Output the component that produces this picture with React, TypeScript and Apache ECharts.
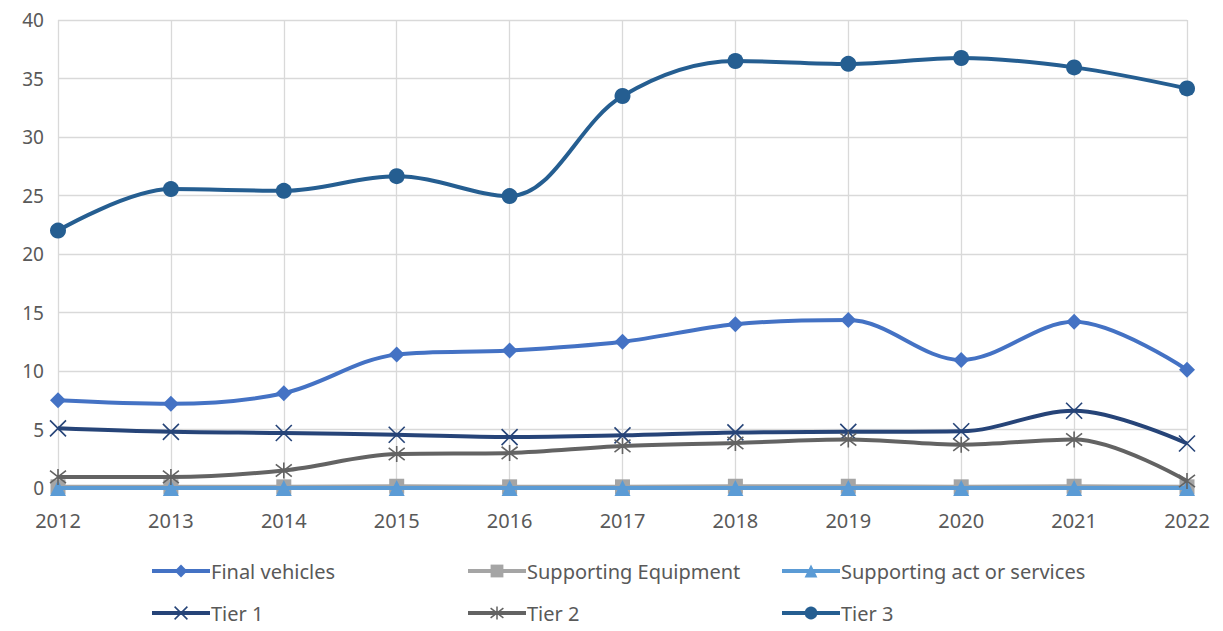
import React, { useEffect, useRef } from "react";
import * as echarts from "echarts";

const years = ["2012", "2013", "2014", "2015", "2016", "2017", "2018", "2019", "2020", "2021", "2022"];
const finalVehicles = [7.5, 7.2, 8.1, 11.4, 11.75, 12.5, 14.0, 14.35, 10.95, 14.2, 10.1];
const supportingEquipment = [0.1, 0.1, 0.1, 0.15, 0.1, 0.1, 0.15, 0.15, 0.1, 0.15, 0.1];
const supportingAct = [0, 0, 0, 0, 0, 0, 0, 0, 0, 0, 0];
const tier1 = [5.1, 4.8, 4.7, 4.55, 4.35, 4.5, 4.75, 4.8, 4.85, 6.6, 3.8];
const tier2 = [0.95, 0.95, 1.5, 2.9, 3.0, 3.6, 3.85, 4.15, 3.7, 4.15, 0.6];
const tier3 = [22.0, 25.55, 25.4, 26.65, 24.95, 33.5, 36.5, 36.25, 36.75, 35.95, 34.15];
const yTicks = { min: 0, max: 40, interval: 5 };

const names = ["Final vehicles", "Supporting Equipment", "Supporting act or services", "Tier 1", "Tier 2", "Tier 3"];
const colors = ["#4472C4", "#A5A5A5", "#5B9BD5", "#264478", "#636363", "#255E91"];

const X_PATH = "path://M0,0L10,10M10,0L0,10";
const STAR_PATH = "path://M0,0L10,10M10,0L0,10M5,-1.5L5,11.5";

export default function App() {
  const ref = useRef<HTMLDivElement>(null);
  useEffect(() => {
    if (!ref.current) return;
    const chart = echarts.init(ref.current, undefined, { renderer: "svg" });
    const datas = [finalVehicles, supportingEquipment, supportingAct, tier1, tier2, tier3];
    const symbols = ["diamond", "rect", "triangle", X_PATH, STAR_PATH, "circle"];
    const sizes = [16, 15, 16, 16, 16, 16];
    const series = datas.map((d, i) => {
      const isPath = i === 3 || i === 4;
      return {
        name: names[i],
        type: "line",
        data: d,
        smooth: 0.35,
        symbol: symbols[i],
        symbolSize: sizes[i],
        showSymbol: true,
        lineStyle: { color: colors[i], width: 4 },
        itemStyle: isPath
          ? { color: "none", borderColor: colors[i], borderWidth: 1.6 }
          : { color: colors[i], borderColor: colors[i], borderWidth: 0 },
        z: 2 + i,
      };
    });
    const legendPos = [
      [150, 561], [466, 561], [780, 561],
      [150, 603], [466, 603], [780, 603],
    ];
    const legends = names.map((n, i) => {
      const isPath = i === 3 || i === 4;
      return {
        data: [
          {
            name: n,
            lineStyle: { width: 4, color: colors[i] },
            itemStyle: isPath
              ? { color: "none", borderColor: colors[i], borderWidth: 1.5 }
              : { color: colors[i], borderWidth: 0 },
          },
        ],
        left: legendPos[i][0],
        top: legendPos[i][1],
        itemWidth: 58,
        itemHeight: 16,
        itemGap: 2,
        padding: 0,
        textStyle: { fontSize: 20, color: "#595959", fontFamily: "Noto Sans", padding: [0, 0, 0, -4] },
        selectedMode: false,
      };
    });
    chart.setOption({
      animation: false,
      backgroundColor: "#ffffff",
      color: colors,
      grid: { left: 58, right: 36, top: 20, bottom: 143, containLabel: false },
      legend: legends,
      xAxis: {
        type: "category",
        data: years,
        boundaryGap: false,
        axisLine: { show: true, lineStyle: { color: "#D9D9D9", width: 1 } },
        axisTick: { show: false },
        splitLine: { show: true, lineStyle: { color: "#D9D9D9", width: 1.3 } },
        axisLabel: { fontSize: 20, color: "#595959", margin: 22, fontFamily: "Noto Sans" },
      },
      yAxis: {
        type: "value",
        min: yTicks.min,
        max: yTicks.max,
        interval: yTicks.interval,
        axisLine: { show: false },
        axisTick: { show: false },
        splitLine: { show: true, lineStyle: { color: "#D9D9D9", width: 1.3 } },
        axisLabel: { fontSize: 19, color: "#595959", margin: 14, fontFamily: "Noto Sans" },
      },
      series,
    });
    return () => chart.dispose();
  }, []);
  return <div ref={ref} style={{ width: 1223, height: 631, position: "absolute", left: 0, top: 0 }} />;
}
